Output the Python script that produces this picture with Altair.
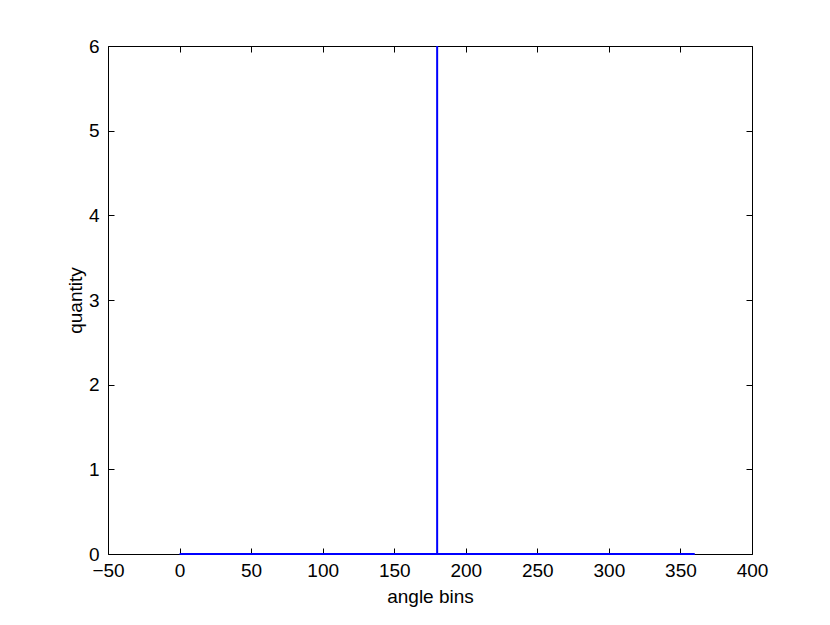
import altair as alt
import pandas as pd

# Data
angle = [0, 180, 180, 180, 360]
quantity = [0, 0, 6, 0, 0]
x_ticks = [-50, 0, 50, 100, 150, 200, 250, 300, 350, 400]
y_ticks = [0, 1, 2, 3, 4, 5, 6]

df = pd.DataFrame({"angle": angle, "quantity": quantity})

FONT = "Liberation Sans"
FS = 19
xs = alt.Scale(domain=[-50, 400], nice=False, zero=False)
ys = alt.Scale(domain=[0, 6], nice=False, zero=False)

base = alt.Chart(df)

main = base.mark_line(color="#0000ff", strokeWidth=2).encode(
    x=alt.X("angle:Q", scale=xs, axis=alt.Axis(
        orient="bottom", values=x_ticks, title="angle bins", ticks=False,
        domain=False, grid=False, labelFont=FONT, labelFontSize=FS,
        labelPadding=7, labelColor="black", titleFont=FONT, titleFontSize=FS,
        titleFontWeight="normal", titleColor="black", titlePadding=7,
        labelFlush=False)),
    y=alt.Y("quantity:Q", scale=ys, axis=alt.Axis(
        orient="left", values=y_ticks, title="quantity", ticks=False,
        domain=False, grid=False, labelFont=FONT, labelFontSize=FS,
        labelPadding=9, labelColor="black", titleFont=FONT, titleFontSize=FS,
        titleFontWeight="normal", titleColor="black", titlePadding=3,
        labelFlush=False)),
)


def tick_layer(xo, yo):
    return base.mark_line(opacity=0).encode(
        x=alt.X("angle:Q", scale=xs, title=None, axis=alt.Axis(
            orient=xo, values=x_ticks, labels=False, domain=False, grid=False,
            offset=-6, tickSize=6, tickColor="black", tickWidth=1)),
        y=alt.Y("quantity:Q", scale=ys, title=None, axis=alt.Axis(
            orient=yo, values=y_ticks, labels=False, domain=False, grid=False,
            offset=-6, tickSize=6, tickColor="black", tickWidth=1)),
    )


chart = alt.layer(main, tick_layer("bottom", "left"), tick_layer("top", "right")).resolve_axis(
    x="independent", y="independent"
).properties(
    width=644, height=508,
    autosize=alt.AutoSizeParams(type="none"),
    padding={"left": 100, "top": 38, "right": 70, "bottom": 63},
    background="white",
).configure_view(stroke="black", strokeWidth=1)

chart.save("out.html", embed_options={"renderer": "svg", "actions": False})
